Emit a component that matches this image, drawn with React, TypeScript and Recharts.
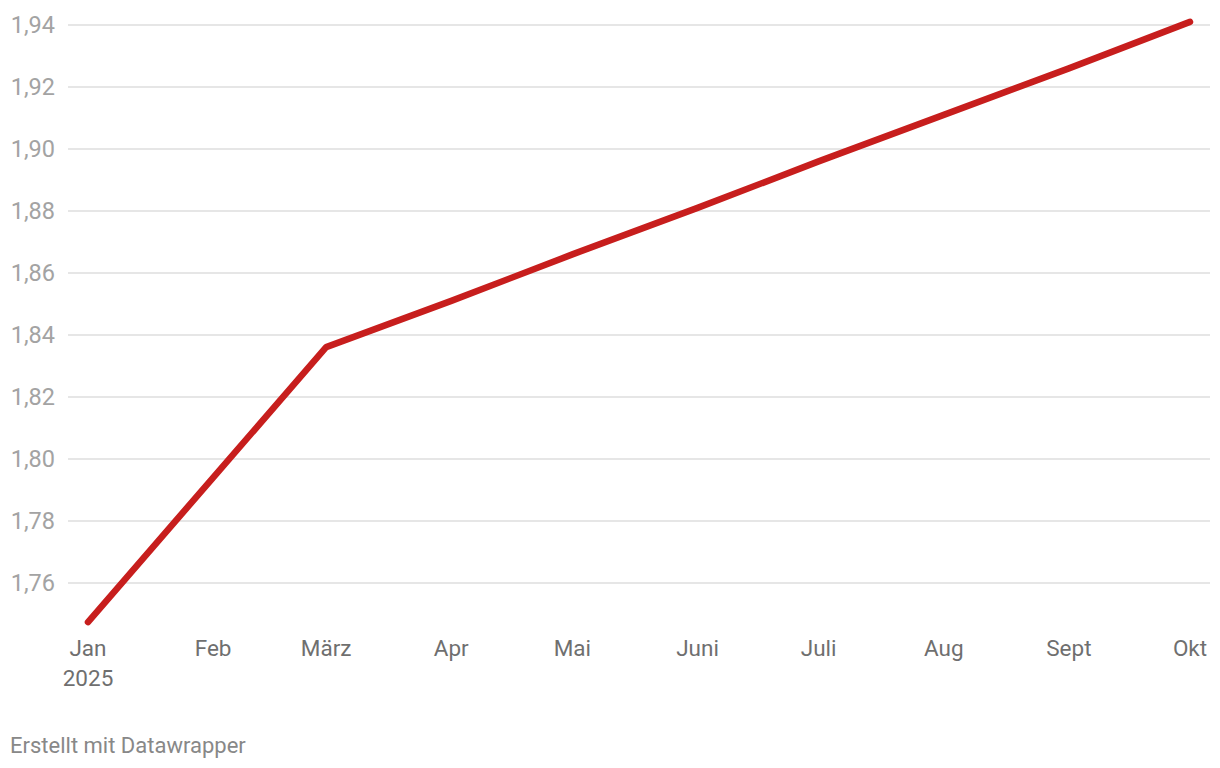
import React from "react";
import { LineChart, Line, XAxis, YAxis, CartesianGrid } from "recharts";

const monthLabels = ["Jan", "Feb", "März", "Apr", "Mai", "Juni", "Juli", "Aug", "Sept", "Okt"];
const dayOffsets = [0, 31, 59, 90, 120, 151, 181, 212, 243, 273];
const values = [1.7474, 1.794, 1.8361, 1.851, 1.866, 1.881, 1.896, 1.911, 1.926, 1.941];
const yTicks = [1.76, 1.78, 1.8, 1.82, 1.84, 1.86, 1.88, 1.9, 1.92, 1.94];

const data = dayOffsets.map((d, i) => ({ day: d, value: values[i], label: monthLabels[i] }));

const FONT = "Roboto, 'Noto Sans', Arial, sans-serif";

const XTick = (props: any) => {
  const { x, y, payload } = props;
  const idx = dayOffsets.indexOf(payload.value);
  const label = monthLabels[idx] ?? "";
  return (
    <g>
      <text x={x} y={y + 3} textAnchor="middle" fill="#6f6f6f" fontSize={22.5} fontFamily={FONT}>
        {label}
      </text>
      {idx === 0 && (
        <text x={x} y={y + 33} textAnchor="middle" fill="#6f6f6f" fontSize={22.5} fontFamily={FONT}>
          2025
        </text>
      )}
    </g>
  );
};

const fmt = (v: number) => v.toFixed(2).replace(".", ",");

export default function App() {
  return (
    <div style={{ position: "relative", width: 1212, height: 752, background: "#fff" }}>
      <LineChart
        width={1212}
        height={700}
        data={data}
        margin={{ top: 1.5, right: 10, bottom: 3, left: 0 }}
      >
        <CartesianGrid
          vertical={false}
          stroke="#e6e6e6"
          strokeWidth={2}
          horizontalValues={yTicks}
        />
        <XAxis
          dataKey="day"
          type="number"
          domain={[0, 273]}
          ticks={dayOffsets}
          padding={{ left: 20, right: 20 }}
          axisLine={false}
          tickLine={false}
          tick={<XTick />}
          height={60}
          interval={0}
        />
        <YAxis
          type="number"
          domain={[1.74, 1.945]}
          ticks={yTicks}
          axisLine={false}
          tickLine={false}
          width={60}
          tickMargin={7}
          tickFormatter={fmt}
          tick={{ fill: "#a3a3a3", fontSize: 23.5, fontFamily: FONT }}
          interval={0}
        />
        <Line
          type="linear"
          dataKey="value"
          stroke="#c71e1d"
          strokeWidth={6.5}
          strokeLinecap="round"
          strokeLinejoin="round"
          dot={false}
          activeDot={false}
          isAnimationActive={false}
        />
      </LineChart>
      <div
        style={{
          position: "absolute",
          left: 2,
          top: 726,
          fontFamily: FONT,
          fontSize: 22,
          color: "#888",
          lineHeight: "24px",
          whiteSpace: "nowrap",
        }}
      >
        Erstellt mit Datawrapper
      </div>
    </div>
  );
}
